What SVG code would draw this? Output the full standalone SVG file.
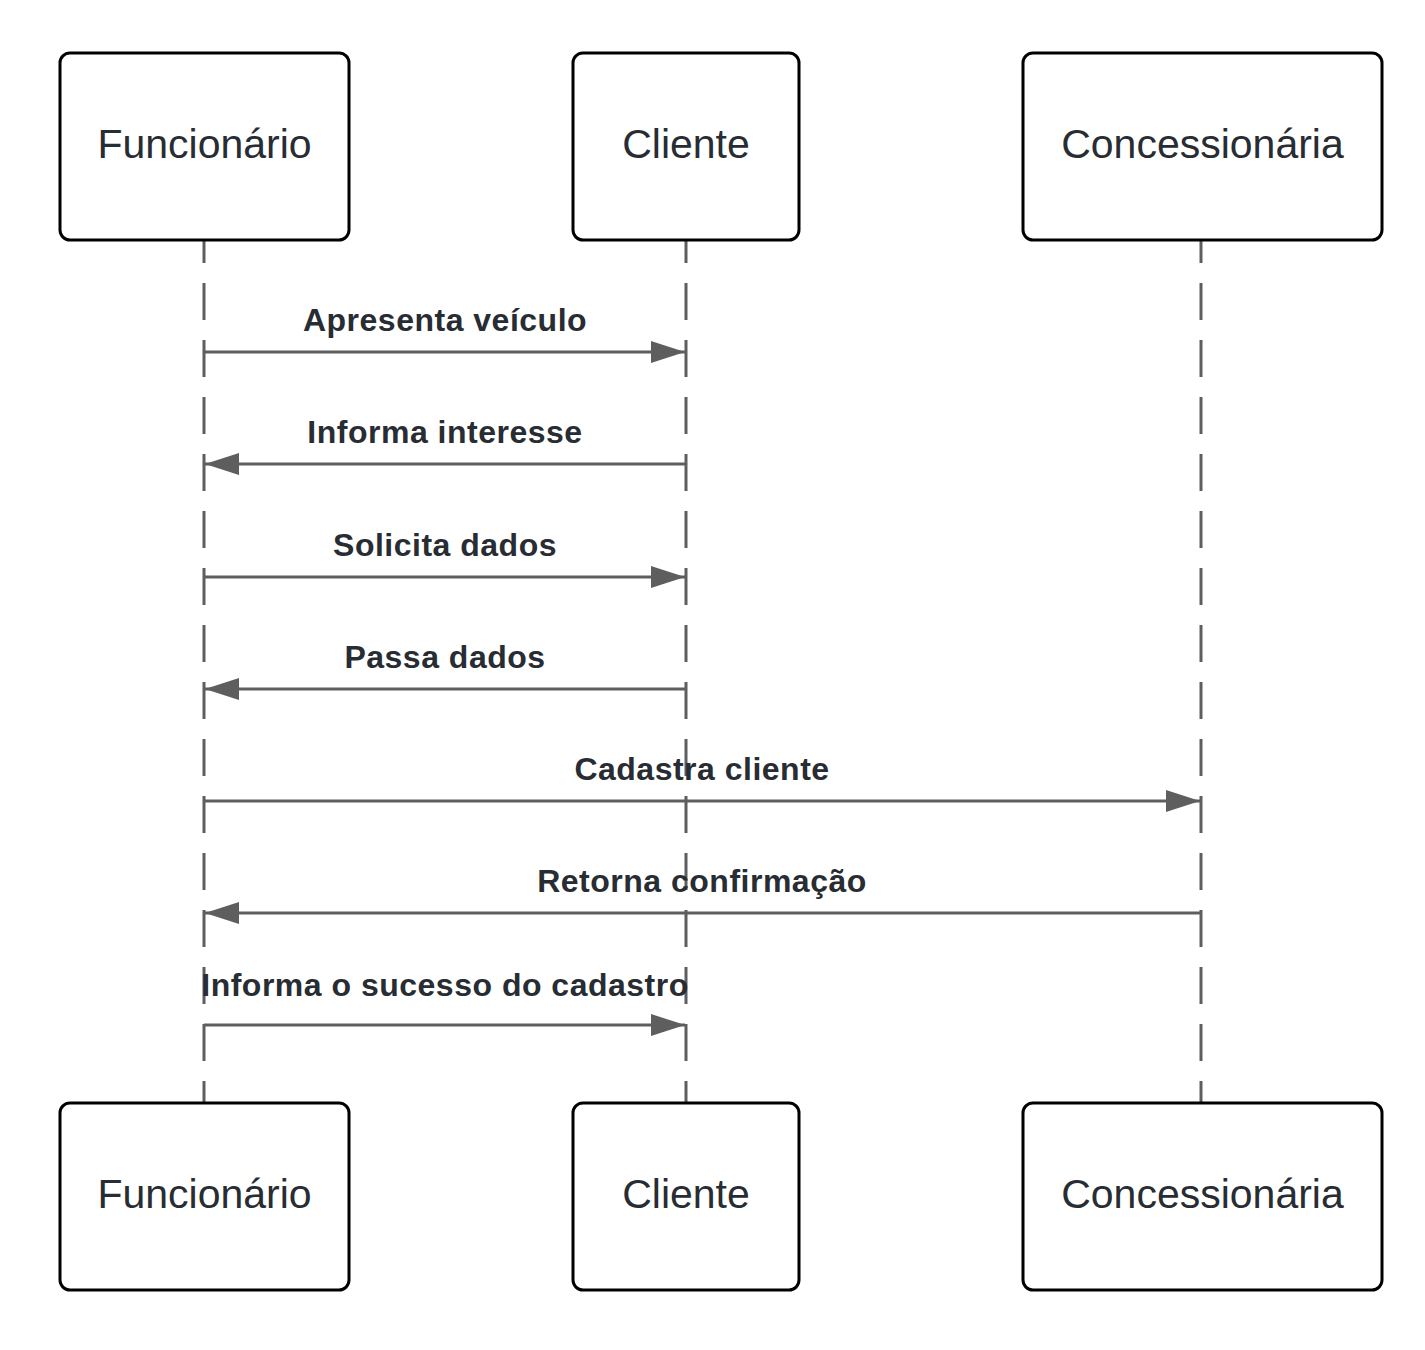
<svg xmlns="http://www.w3.org/2000/svg" width="1425" height="1350" viewBox="0 0 1425 1350">
<style>
.box{fill:#fff;stroke:#000;stroke-width:3}
.nl{font-family:"Liberation Sans",Arial,sans-serif;font-size:41px;fill:#282c33;text-anchor:middle}
.ml{font-family:"Liberation Sans",Arial,sans-serif;font-size:32px;font-weight:bold;letter-spacing:0.5px;fill:#282c33;text-anchor:middle}
.life{stroke:#5e5e5e;stroke-width:3;stroke-dasharray:37 20;stroke-dashoffset:14;fill:none}
.msg{stroke:#5e5e5e;stroke-width:3;fill:none;marker-end:url(#ah)}
</style>
<defs>
<marker id="ah" markerUnits="userSpaceOnUse" markerWidth="36" markerHeight="24" refX="34" refY="11" orient="auto">
<path d="M0,0 L34,11 L0,22 Z" fill="#5e5e5e"/>
</marker>
</defs>
<rect width="1425" height="1350" fill="#fff"/>
<g id="lifelines">
<line class="life" x1="204" y1="240" x2="204" y2="1103"/>
<line class="life" x1="686" y1="240" x2="686" y2="1103"/>
<line class="life" x1="1201" y1="240" x2="1201" y2="1103"/>
</g>
<g id="connectors">
<line class="msg" x1="204" y1="352" x2="685" y2="352"/>
<line class="msg" x1="686" y1="464" x2="205" y2="464"/>
<line class="msg" x1="204" y1="577" x2="685" y2="577"/>
<line class="msg" x1="686" y1="689" x2="205" y2="689"/>
<line class="msg" x1="204" y1="801" x2="1200" y2="801"/>
<line class="msg" x1="1201" y1="913" x2="205" y2="913"/>
<line class="msg" x1="204" y1="1025" x2="685" y2="1025"/>
</g>
<g id="labels">
<text class="ml" x="445" y="331">Apresenta veículo</text>
<text class="ml" x="445" y="443">Informa interesse</text>
<text class="ml" x="445" y="556">Solicita dados</text>
<text class="ml" x="445" y="668">Passa dados</text>
<text class="ml" x="702" y="780">Cadastra cliente</text>
<text class="ml" x="702" y="892">Retorna confirmação</text>
<text class="ml" x="445" y="996">Informa o sucesso do cadastro</text>
</g>
<g id="funcionario-top"><rect class="box" x="60" y="53" width="289" height="187" rx="10"/><text class="nl" x="204.5" y="158">Funcionário</text></g>
<g id="cliente-top"><rect class="box" x="573" y="53" width="226" height="187" rx="10"/><text class="nl" x="686" y="158">Cliente</text></g>
<g id="concessionaria-top"><rect class="box" x="1023" y="53" width="359" height="187" rx="10"/><text class="nl" x="1202.5" y="158">Concessionária</text></g>
<g id="funcionario-bottom"><rect class="box" x="60" y="1103" width="289" height="187" rx="10"/><text class="nl" x="204.5" y="1208">Funcionário</text></g>
<g id="cliente-bottom"><rect class="box" x="573" y="1103" width="226" height="187" rx="10"/><text class="nl" x="686" y="1208">Cliente</text></g>
<g id="concessionaria-bottom"><rect class="box" x="1023" y="1103" width="359" height="187" rx="10"/><text class="nl" x="1202.5" y="1208">Concessionária</text></g>
</svg>
